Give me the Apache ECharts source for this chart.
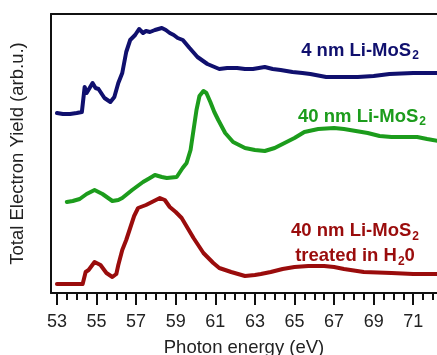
<!DOCTYPE html>
<html>
<head>
<meta charset="utf-8">
<script src="https://cdn.jsdelivr.net/npm/echarts@6/dist/echarts.min.js"></script>
<style>
  html, body { margin: 0; padding: 0; background: #fff; }
  #main { width: 437px; height: 355px; }
</style>
</head>
<body>
<div id="main"></div>
<script>
  // photon energy (eV) and yield (arb.u.)
  var blueE = [53.0, 53.3, 53.66, 54.0, 54.26, 54.4, 54.5, 54.65, 54.8, 54.95, 55.1, 55.4, 55.7, 55.9, 56.1, 56.3, 56.5, 56.7, 56.95, 57.15, 57.35, 57.5, 57.7, 57.95, 58.3, 58.5, 58.7, 58.9, 59.1, 59.36, 59.7, 60.1, 60.6, 61.2, 61.6, 62.1, 62.5, 62.9, 63.5, 63.9, 64.3, 64.9, 65.4, 65.8, 66.6, 67.4, 68.2, 69.0, 69.8, 71.0, 72.3];
  var blueY = [180, 179, 179, 180, 181, 206, 200, 205, 210, 205, 204, 195, 191, 196, 210, 220, 241, 253, 258, 264, 260, 262, 261, 263, 265, 263, 260, 258, 255, 253, 245, 236, 229, 224, 225, 225, 224, 224, 226, 224, 223, 221, 220, 219, 216, 216, 216, 217, 219, 220, 220];

  var greenE = [53.5, 53.8, 54.15, 54.5, 54.9, 55.3, 55.8, 56.1, 56.3, 56.8, 57.35, 57.7, 57.95, 58.3, 58.55, 59.05, 59.35, 59.55, 59.75, 59.9, 60.05, 60.2, 60.4, 60.55, 60.75, 60.95, 61.15, 61.5, 61.9, 62.5, 63.0, 63.5, 64.0, 64.5, 65.0, 65.5, 66.2, 67.0, 67.5, 68.1, 68.7, 69.3, 69.9, 70.5, 71.2, 71.7, 72.3];
  var greenY = [91, 92, 94, 99, 103, 99, 92, 93, 95, 103, 111, 115, 118, 116, 115, 116, 125, 130, 143, 163, 183, 197, 202, 200, 191, 181, 173, 160, 151, 145, 143, 142, 145, 150, 155, 161, 164, 165, 164, 162, 160, 157, 156, 156, 156, 154, 152];

  var redE = [53.0, 53.5, 54.0, 54.3, 54.45, 54.6, 54.9, 55.2, 55.5, 55.8, 56.0, 56.1, 56.3, 56.5, 56.7, 56.9, 57.1, 57.5, 57.9, 58.2, 58.45, 58.7, 59.0, 59.3, 59.6, 59.9, 60.2, 60.4, 60.9, 61.2, 61.8, 62.5, 63.0, 63.3, 63.8, 64.4, 65.0, 65.7, 66.5, 67.0, 67.5, 68.5, 69.9, 71.0, 72.3];
  var redY = [9, 9, 9, 9, 21, 23, 31, 28, 20, 16, 19, 28, 43, 53, 65, 77, 85, 88, 92, 95, 93, 86, 81, 75, 65, 55, 46, 40, 30, 25, 21, 17, 18, 19, 21, 24, 26, 27, 27, 26, 24, 21, 20, 19, 19];

  var majorTicks = [53, 55, 57, 59, 61, 63, 65, 67, 69, 71];
  var minorTicks = [53.5, 54, 54.5, 55.5, 56, 56.5, 57.5, 58, 58.5, 59.5, 60, 60.5, 61.5, 62, 62.5, 63.5, 64, 64.5, 65.5, 66, 66.5, 67.5, 68, 68.5, 69.5, 70, 70.5, 71.5, 72];

  var NAVY = '#10106e', GREEN = '#1c9c1c', RED = '#9a0c0c';
  var FONT = '"Liberation Sans", Arial, sans-serif';

  function pairs(xs, ys) {
    return xs.map(function (x, i) { return [x, ys[i]]; });
  }
  function curve(name, xs, ys, color) {
    return {
      name: name,
      type: 'line',
      showSymbol: false,
      data: pairs(xs, ys),
      lineStyle: { color: color, width: 4, join: 'round', cap: 'round' },
      itemStyle: { color: color }
    };
  }
  var subStyle = { fontSize: 12, fontWeight: 'bold', fontFamily: FONT, verticalAlign: 'bottom', padding: [0, 0, 0, 1] };

  var myChart = echarts.init(document.getElementById('main'));
  var option = {
    animation: false,
    grid: { left: 51, right: 0, top: 14, bottom: 62, outerBoundsMode: 'none' },
    xAxis: [
      {
        type: 'value', min: 52.7, max: 72.2, position: 'bottom',
        axisLine: { lineStyle: { color: '#111', width: 2 } },
        axisTick: { customValues: majorTicks, length: 12, lineStyle: { color: '#111', width: 2 } },
        axisLabel: { customValues: majorTicks, fontSize: 18, color: '#222', margin: 20, fontFamily: FONT },
        splitLine: { show: false },
        name: 'Photon energy (eV)', nameLocation: 'middle', nameGap: 45,
        nameTextStyle: { fontSize: 18.5, color: '#222', fontFamily: FONT }
      },
      {
        type: 'value', min: 52.7, max: 72.2, position: 'bottom',
        axisLine: { show: false },
        axisTick: { customValues: minorTicks, length: 7, lineStyle: { color: '#111', width: 2 } },
        axisLabel: { show: false },
        splitLine: { show: false }
      },
      {
        type: 'value', min: 52.7, max: 72.2, position: 'top',
        axisLine: { lineStyle: { color: '#111', width: 2 } },
        axisTick: { show: false }, axisLabel: { show: false }, splitLine: { show: false }
      }
    ],
    yAxis: {
      type: 'value', min: 0, max: 279,
      axisLine: { show: true, lineStyle: { color: '#111', width: 2 } },
      axisTick: { show: false }, axisLabel: { show: false }, splitLine: { show: false },
      name: 'Total Electron Yield (arb.u.)', nameLocation: 'middle', nameGap: 24,
      nameTextStyle: { fontSize: 18.5, color: '#222', fontFamily: FONT }
    },
    graphic: [
      {
        type: 'text', x: 360, y: 51,
        style: {
          text: '4 nm Li-MoS{s|2}', fill: NAVY, fontSize: 18.5, fontWeight: 'bold', fontFamily: FONT,
          textAlign: 'center', textVerticalAlign: 'middle', lineHeight: 21, rich: { s: subStyle }
        }
      },
      {
        type: 'text', x: 362, y: 117,
        style: {
          text: '40 nm Li-MoS{s|2}', fill: GREEN, fontSize: 18.5, fontWeight: 'bold', fontFamily: FONT,
          textAlign: 'center', textVerticalAlign: 'middle', lineHeight: 21, rich: { s: subStyle }
        }
      },
      {
        type: 'text', x: 355, y: 243,
        style: {
          text: '40 nm Li-MoS{s|2}\ntreated in H{s|2}0', fill: RED, fontSize: 18.5, fontWeight: 'bold', fontFamily: FONT,
          textAlign: 'center', textVerticalAlign: 'middle', lineHeight: 25, rich: { s: subStyle }
        }
      }
    ],
    series: [
      curve('4 nm Li-MoS2', blueE, blueY, NAVY),
      curve('40 nm Li-MoS2', greenE, greenY, GREEN),
      curve('40 nm Li-MoS2 treated in H2O', redE, redY, RED)
    ]
  };
  myChart.setOption(option);
</script>
</body>
</html>
